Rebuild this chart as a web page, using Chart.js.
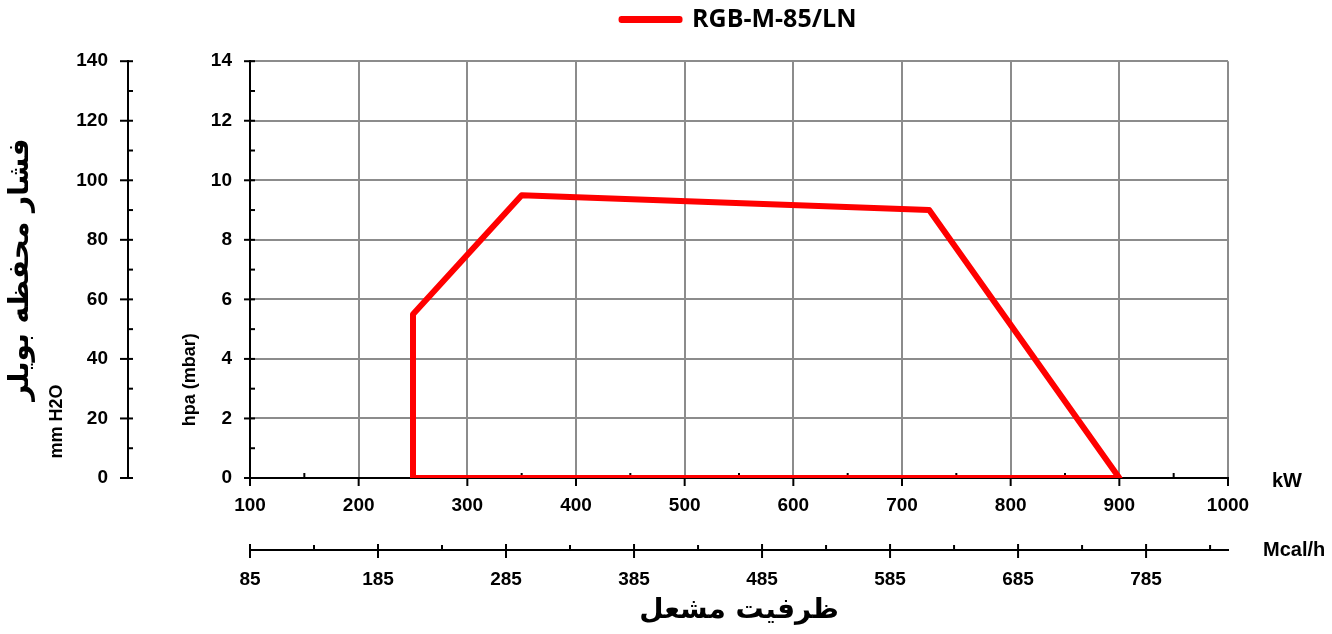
<!DOCTYPE html>
<html>
<head>
<meta charset="utf-8">
<script src="https://cdn.jsdelivr.net/npm/chart.js@4/dist/chart.umd.min.js"></script>
<style>
  html, body { margin: 0; padding: 0; background: #fff; }
</style>
</head>
<body>
<canvas id="burnerCanvas" width="1332" height="634"></canvas>
<script>
// burner working field
const seriesName = 'RGB-M-85/LN';
const burnerKw = [250, 250, 350, 725, 900, 250];
const chamberMbar = [0, 5.5, 9.5, 9, 0, 0];

// tick values of the four axes
const kwTicks = [100, 200, 300, 400, 500, 600, 700, 800, 900, 1000];
const kwMinor = [150, 250, 350, 450, 550, 650, 750, 850, 950];
const mcalTicks = [85, 185, 285, 385, 485, 585, 685, 785];
const mcalMinor = [135, 235, 335, 435, 535, 635, 735, 835];
const mbarTicks = [0, 2, 4, 6, 8, 10, 12, 14];
const mbarMinor = [1, 3, 5, 7, 9, 11, 13];
const mmTicks = [0, 20, 40, 60, 80, 100, 120, 140];

const tickFont = { family: 'Liberation Sans, Arial, sans-serif', size: 19, weight: 'bold' };
const persianFont = { family: 'DejaVu Sans, sans-serif', size: 28, weight: 'bold' };
const plainLabel = v => String(v);

// tick marks (major crossing, minor small) and the side labels
const axisDecor = {
    id: 'axisDecor',
    beforeDatasetsDraw(chart) {
        const { ctx, scales } = chart;
        ctx.save();
        ctx.strokeStyle = '#000';
        ctx.lineWidth = 2;
        function seg(x1, y1, x2, y2) {
            ctx.beginPath();
            ctx.moveTo(x1, y1);
            ctx.lineTo(x2, y2);
            ctx.stroke();
        }
        // hpa axis
        let ax = scales.y.right;
        mbarTicks.forEach(v => { const p = scales.y.getPixelForValue(v); seg(ax - 6, p, ax + 5, p); });
        mbarMinor.forEach(v => { const p = scales.y.getPixelForValue(v); seg(ax, p, ax + 5, p); });
        // mm H2O axis
        ax = scales.y2.right;
        mmTicks.forEach(v => { const p = scales.y2.getPixelForValue(v); seg(ax - 8, p, ax + 5, p); });
        mbarMinor.forEach(v => { const p = scales.y.getPixelForValue(v); seg(ax, p, ax + 5, p); });
        // kW axis
        let ay = scales.x.top;
        kwTicks.forEach(v => { const p = scales.x.getPixelForValue(v); seg(p, ay, p, ay + 8); });
        kwMinor.forEach(v => { const p = scales.x.getPixelForValue(v); seg(p, ay - 5, p, ay); });
        // Mcal/h axis
        ay = scales.x2.top;
        mcalTicks.forEach(v => { const p = scales.x2.getPixelForValue(v); seg(p, ay - 6, p, ay + 8); });
        mcalMinor.forEach(v => { const p = scales.x2.getPixelForValue(v); seg(p, ay - 5, p, ay); });
        ctx.restore();
    },
    afterDraw(chart) {
        const { ctx, scales } = chart;
        ctx.save();
        ctx.fillStyle = '#000';
        ctx.font = 'bold 20px "Liberation Sans", Arial, sans-serif';
        ctx.textBaseline = 'middle';
        ctx.textAlign = 'left';
        ctx.fillText('kW', scales.x.right + 44, scales.x.top + 3);
        ctx.fillText('Mcal/h', scales.x2.right + 35, scales.x2.top);
        // rotated unit labels
        ctx.font = 'bold 18px "Liberation Sans", Arial, sans-serif';
        ctx.textAlign = 'center';
        ctx.save();
        ctx.translate(scales.y.left + 62, scales.y.getPixelForValue(3.3));
        ctx.rotate(-Math.PI / 2);
        ctx.fillText('hpa (mbar)', 0, 0);
        ctx.restore();
        ctx.save();
        ctx.translate(scales.y2.left + 57, scales.y2.getPixelForValue(19));
        ctx.rotate(-Math.PI / 2);
        ctx.fillText('mm H2O', 0, 0);
        ctx.restore();
        ctx.restore();
    }
};

document.addEventListener('DOMContentLoaded', function() {
    const ctx = document.getElementById('burnerCanvas').getContext('2d');
    new Chart(ctx, {
        type: 'scatter',
        data: {
            datasets: [{
                label: seriesName,
                data: burnerKw.map((kw, i) => ({ x: kw, y: chamberMbar[i] })),
                showLine: true,
                borderColor: '#ff0000',
                backgroundColor: '#ff0000',
                borderWidth: 6,
                borderJoinStyle: 'round',
                pointRadius: 0,
                xAxisID: 'x',
                yAxisID: 'y'
            }]
        },
        options: {
            responsive: false,
            animation: false,
            devicePixelRatio: 1,
            layout: { padding: { top: 4, right: 104, bottom: 0, left: 0 } },
            plugins: {
                tooltip: { enabled: false },
                legend: {
                    display: true,
                    position: 'top',
                    fullSize: false,
                    labels: {
                        boxWidth: 58,
                        boxHeight: 1,
                        color: '#000',
                        padding: 3,
                        font: { family: 'Open Sans, sans-serif', size: 25, weight: 'bold' }
                    }
                },
                // empty spacer between legend and plot
                subtitle: {
                    display: true,
                    text: '',
                    weight: 500,
                    fullSize: false,
                    font: { size: 1 },
                    padding: { top: 0, bottom: 18 }
                }
            },
            scales: {
                x: {
                    type: 'linear',
                    position: 'bottom',
                    weight: 0,
                    min: 100,
                    max: 1000,
                    afterBuildTicks: s => { s.ticks = kwTicks.map(v => ({ value: v })); },
                    afterFit: s => { s.height = 72; },
                    ticks: { color: '#000', font: tickFont, padding: 16, maxRotation: 0, autoSkip: false, callback: plainLabel },
                    grid: { color: '#8c8c8c', lineWidth: 2, drawTicks: false },
                    border: { color: '#000', width: 2 }
                },
                x2: {
                    type: 'linear',
                    position: 'bottom',
                    weight: 1,
                    min: 85,
                    max: 849,
                    afterBuildTicks: s => { s.ticks = mcalTicks.map(v => ({ value: v })); },
                    afterFit: s => { s.height = 84; },
                    ticks: { color: '#000', font: tickFont, padding: 18, maxRotation: 0, autoSkip: false, callback: plainLabel },
                    grid: { drawOnChartArea: false, drawTicks: false },
                    border: { color: '#000', width: 2 },
                    title: {
                        display: true,
                        text: 'ظرفیت مشعل',
                        color: '#000',
                        font: persianFont,
                        padding: { top: 0, bottom: 6 }
                    }
                },
                y: {
                    type: 'linear',
                    position: 'left',
                    weight: 0,
                    min: 0,
                    max: 14,
                    afterBuildTicks: s => { s.ticks = mbarTicks.map(v => ({ value: v })); },
                    afterFit: s => { s.width = 122; },
                    ticks: { color: '#000', font: tickFont, padding: 18, callback: plainLabel },
                    grid: { color: '#8c8c8c', lineWidth: 2, drawTicks: false },
                    border: { color: '#000', width: 2 }
                },
                y2: {
                    type: 'linear',
                    position: 'left',
                    weight: 1,
                    min: 0,
                    max: 140,
                    afterBuildTicks: s => { s.ticks = mmTicks.map(v => ({ value: v })); },
                    afterFit: s => { s.width = 128; },
                    ticks: { color: '#000', font: tickFont, padding: 20, callback: plainLabel },
                    grid: { drawOnChartArea: false, drawTicks: false },
                    border: { color: '#000', width: 2 },
                    title: {
                        display: true,
                        text: 'فشار محفظه بویلر',
                        color: '#000',
                        font: persianFont,
                        padding: { top: 4, bottom: 0 }
                    }
                }
            }
        },
        plugins: [axisDecor]
    });
});
</script>
</body>
</html>
